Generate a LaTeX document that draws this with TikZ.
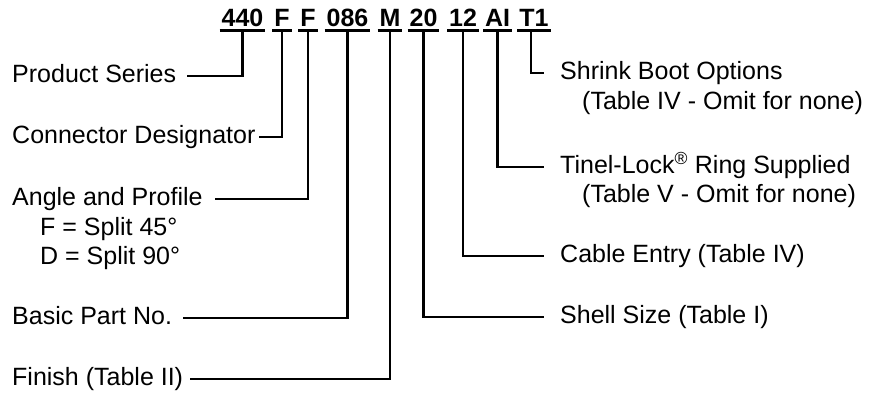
\documentclass[tikz,border=0pt]{standalone}
\usepackage{fontspec}
\setmainfont{Liberation Sans}
\begin{document}
\begin{tikzpicture}[x=1pt,y=-1pt,
  lbl/.style={font=\fontsize{25}{30}\selectfont, inner sep=0pt, text height=18pt, text depth=5pt, anchor=west},
  code/.style={font=\fontsize{25}{30}\selectfont\bfseries, inner xsep=1.8pt, inner ysep=0pt, anchor=base},
  conn/.style={line width=2.8pt, line join=miter},
  uline/.style={line width=3pt}]
\useasboundingbox (0,0) rectangle (881,396);
% part number codes
\node[code] (c440) at (242.5,27) {440};
\node[code] (cF1)  at (282,27) {F};
\node[code] (cF2)  at (308,27) {F};
\node[code] (c086) at (347.5,27) {086};
\node[code] (cM)   at (390,27) {M};
\node[code] (c20)  at (423.5,27) {20};
\node[code] (c12)  at (463,27) {12};
\node[code] (cAI)  at (497.5,27) {AI};
\node[code] (cT1)  at (534,27) {T1};
\foreach \n in {c440,cF1,cF2,c086,cM,c20,c12,cAI,cT1}
  \draw[uline] ([yshift=-3.5pt]\n.base west) -- ([yshift=-3.5pt]\n.base east);
% left labels
\node[lbl] (ps)  at (12,76)  {Product Series};
\node[lbl] (cd)  at (12,137) {Connector Designator};
\node[lbl] (ap)  at (12,199) {Angle and Profile};
\node[lbl] (ap1) at (40,229) {F = Split 45°};
\node[lbl] (ap2) at (40,258) {D = Split 90°};
\node[lbl] (bp)  at (12,318) {Basic Part No.};
\node[lbl] (fi)  at (12,379) {Finish (Table II)};
% right labels
\node[lbl] (sb)  at (560,73)  {Shrink Boot Options};
\node[lbl] (sb2) at (582,103) {(Table IV - Omit for none)};
\node[lbl] (tl)  at (560,167) {Tinel-Lock\textsuperscript{®} Ring Supplied};
\node[lbl] (tl2) at (582,196) {(Table V - Omit for none)};
\node[lbl] (ce)  at (560,256) {Cable Entry (Table IV)};
\node[lbl] (ss)  at (560,317) {Shell Size (Table I)};
% connectors
\draw[conn] ([yshift=-3.5pt]c440.base) |- ([xshift=11pt]ps.east);
\draw[conn] ([yshift=-3.5pt]cF1.base)  |- ([xshift=3pt]cd.east);
\draw[conn] ([yshift=-3.5pt]cF2.base)  |- ([xshift=12pt]ap.east);
\draw[conn] ([yshift=-3.5pt]c086.base) |- ([xshift=11pt]bp.east);
\draw[conn] ([yshift=-3.5pt]cM.base)   |- ([xshift=7pt]fi.east);
\draw[conn] ([yshift=-3.5pt]c20.base)  |- ([xshift=-16pt]ss.west);
\draw[conn] ([yshift=-3.5pt]c12.base)  |- ([xshift=-16pt]ce.west);
\draw[conn] ([yshift=-3.5pt]cAI.base)  |- ([xshift=-16pt]tl.west);
\draw[conn] ([yshift=-3.5pt,xshift=-3pt]cT1.base) |- ([xshift=-16pt]sb.west);
\end{tikzpicture}
\end{document}
